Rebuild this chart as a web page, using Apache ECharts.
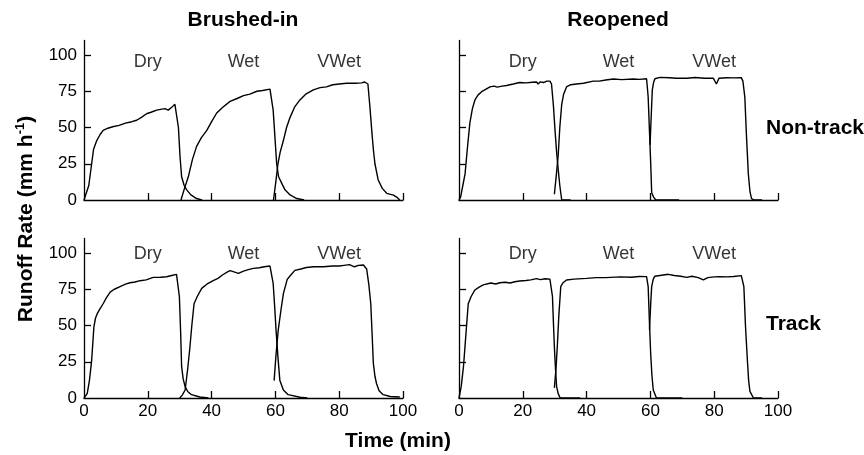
<!DOCTYPE html>
<html>
<head>
<meta charset="utf-8">
<script src="https://cdn.jsdelivr.net/npm/echarts@6/dist/echarts.min.js"></script>
<style>
  html, body { margin: 0; padding: 0; background: #fff; }
  #chart { width: 864px; height: 455px; }
</style>
</head>
<body>
<div id="chart"></div>
<script>
// column / row labels
const colTitles = ['Brushed-in', 'Reopened']
const rowTitles = ['Non-track', 'Track']
const runNames = ['Dry', 'Wet', 'VWet']
const runLabelX = [20, 50, 80]
const runLabelY = [95, 99]   // top row, bottom row
const xTicks = [0, 20, 40, 60, 80, 100]
const yTicks = [0, 25, 50, 75, 100]

// Brushed-in, Non-track  [time (min), runoff (mm/h)]
const bnDry = [[0,0],[0.6,0],[1.5,10],[2.4,25],[3,35],[4,41],[5,45],[6,48],[7.5,49.5],[9,50.5],[11,51.5],[13,53],[15,54],[16.5,55],[18,57],[19.6,59.5],[21,60.5],[22.8,62],[24,62.5],[25.4,63],[26.4,62],[27.5,64],[28.5,66],[29.6,50],[30.1,30],[30.6,16],[31.4,10],[32.2,7],[33.5,3.5],[35.3,1],[37,0]]
const bnWet = [[30.4,0],[31.5,8],[32.7,16],[34,28],[35.3,37],[36.8,43],[38.5,48],[40,54],[41.6,60],[43.5,64],[45.8,68],[48,70],[50,72],[52,73],[54.2,75],[56,75.5],[58.3,76.5],[59.3,62],[60.4,25],[61,16],[62,11.5],[63,7],[64.6,3.5],[66.7,1],[69,0]]
const bnVWet = [[59.4,0],[60.1,12],[60.8,25],[61.5,33],[62.5,41],[63.5,50],[64.6,57],[66,64],[67.7,69],[69.5,73],[71.9,76],[74,77.5],[76,78],[78,79.5],[80,80],[82.3,80.5],[85,80.5],[87,80.8],[88,81.4],[89,80],[89.6,65],[90.2,48],[90.7,35],[91.2,25],[92.2,14],[93.5,8],[94.9,4.6],[97,3.4],[98,2],[99,0]]

// Reopened, Non-track
const rnDry = [[0,0],[0.5,2],[1.2,10],[1.9,18],[2.6,35],[3.4,53],[4.2,63],[5,69],[6,72.5],[7.1,74.7],[8.5,76.5],[9.7,78],[11,78.5],[12,77.8],[13.5,78.5],[14.9,79],[17,80],[19,81],[21,80.8],[23,81.2],[24.3,81.4],[24.8,80],[25.5,81.5],[26.5,81],[27.5,82],[28.5,82],[29,80],[29.6,65],[30.1,48],[30.6,33],[31.1,21],[31.6,10],[32.2,0],[35,0]]
const rnWet = [[29.9,4],[30.5,17],[31.1,31],[31.6,50],[32.2,66],[32.8,73],[33.7,78],[35,79.5],[36.9,80],[39,80.5],[42.1,82],[44,82],[46,82.8],[48.4,83.4],[51,83],[54.7,83.4],[56.5,83.2],[58.8,83.6],[59.3,71],[59.7,48],[60.1,25],[60.4,5],[61,2],[61.7,0],[69,0]]
const rnVWet = [[59.9,38],[60.2,55],[60.6,76],[61,81],[61.4,83.6],[63,84.6],[66,84.3],[68,84],[71.4,84],[74,84.5],[77,84],[79.7,84],[80.7,80],[81.5,84],[84,84.3],[86,84.2],[88.5,84.4],[89,82],[89.6,71],[90.1,45],[90.7,18],[91.2,6],[91.7,1],[92.5,0],[95,0]]

// Brushed-in, Track
const btDry = [[0,0],[1,3],[1.7,12],[2.4,26],[3.1,49],[3.6,55],[4.2,58.4],[5,61.5],[6,65],[7,69],[8.2,73],[9.5,75],[11.3,76.8],[13,78.5],[14.4,79.5],[16,80],[17.6,80.9],[19.5,81.5],[21.7,83.2],[24,83.3],[25.9,83.6],[27.5,84.5],[29,85.3],[29.9,70],[30.3,45],[30.6,21.6],[31.1,13],[31.7,7.8],[32.5,4.5],[33.7,2.3],[36.3,0.7],[39,0]]
const btWet = [[30,0],[30.8,2],[31.7,5.5],[32.5,20],[33.2,35],[33.8,50],[34.5,65],[35.5,70],[36.9,75.6],[38.5,78.5],[40.5,81],[42,82.5],[43.5,85],[45,87],[45.8,87.8],[47,87],[48.4,86],[50,87.5],[51.5,88.5],[53.1,89.4],[55,89.8],[56.5,90.5],[58.3,91],[59.3,79],[59.8,62],[60.2,47],[60.8,28],[61.4,12],[62.5,5.5],[64,2.3],[67.7,0.5],[70,0]]
const btVWet = [[59.6,12],[60.2,30],[60.9,47],[61.7,60],[62.5,72],[63.7,81.8],[64.5,84],[66.1,88],[68,89],[69.7,90],[72,90.5],[75,90.5],[78,91],[80,91],[81.5,91.5],[83.2,92],[84.8,90.5],[86,91.5],[87.6,91.7],[88.6,89],[89.3,78],[89.9,65],[90.3,45],[90.7,24],[91.2,15],[91.7,10],[92.5,5],[93.8,2.3],[96,1],[99,0.7]]

// Reopened, Track
const rtDry = [[0,0],[0.7,8],[1.4,21.6],[2.1,42],[2.9,65],[3.8,70],[5,74.5],[6.3,76.5],[7.6,78],[10,79.3],[11.5,78.6],[12.8,79.5],[14.5,79.8],[16,79.3],[17.5,80.2],[19,80.7],[21,81],[22.5,81.5],[24.3,82.3],[25.5,81.6],[27,82.2],[28.5,82],[29.3,70],[29.6,52],[29.9,35],[30.3,18],[30.6,7.8],[31.1,3],[31.7,0],[38,0]]
const rtWet = [[29.9,7],[30.4,20],[30.8,35],[31.3,57],[31.9,76.8],[32.6,79.5],[33.7,81.4],[36,82],[40,82.5],[43,83],[46,83],[50.5,83.5],[54,83.3],[56.5,83.8],[58.8,83.7],[59.3,76.8],[59.7,52],[60.1,30],[60.5,15],[60.9,5.5],[61.9,0],[70,0]]
const rtVWet = [[59.7,47],[60.1,65],[60.4,76.8],[60.9,82],[61.4,84],[63,84.5],[65.6,85.3],[67.5,84.5],[69.5,84],[71.4,83.2],[73,84],[75,83],[76.6,81.4],[78,83],[80,83.5],[81.8,83.7],[84,83.5],[86,83.8],[88.5,84.4],[89.3,76.8],[89.8,50],[90.4,26],[90.8,12],[91.2,4.6],[92.3,0],[95,0]]

const panels = [
  [bnDry, bnWet, bnVWet],
  [rnDry, rnWet, rnVWet],
  [btDry, btWet, btVWet],
  [rtDry, rtWet, rtVWet]
]

const font = 'Liberation Sans, Arial, sans-serif'
const chart = echarts.init(document.getElementById('chart'))

const grids = []
const xAxes = []
const yAxes = []
const series = []
panels.forEach((runs, i) => {
  const col = i % 2
  const row = Math.floor(i / 2)
  grids.push({
    left: col === 0 ? 84 : 459,
    top: row === 0 ? 40.5 : 238.5,
    width: 319,
    height: 159.5
  })
  xAxes.push({
    type: 'value', gridIndex: i, min: 0, max: 100, interval: 20,
    axisLine: { lineStyle: { color: '#000', width: 1.3 } },
    axisTick: { inside: true, length: 7, lineStyle: { color: '#000', width: 1.3 }, customValues: xTicks.slice(1) },
    axisLabel: { show: row === 1, customValues: xTicks, color: '#000', fontSize: 17, fontFamily: font, margin: 5 },
    splitLine: { show: false }
  })
  yAxes.push({
    type: 'value', gridIndex: i, min: 0, max: 110,
    axisLine: { show: true, lineStyle: { color: '#000', width: 1.3 } },
    axisTick: { show: true, inside: true, length: 7, lineStyle: { color: '#000', width: 1.3 }, customValues: yTicks.slice(1) },
    axisLabel: { show: col === 0, customValues: yTicks, color: '#000', fontSize: 17, fontFamily: font, margin: 7 },
    splitLine: { show: false }
  })
  runs.forEach((d, k) => {
    series.push({
      type: 'line', name: runNames[k], xAxisIndex: i, yAxisIndex: i,
      data: d, showSymbol: false, symbol: 'none', silent: true,
      lineStyle: { color: '#000', width: 1.4 }
    })
  })
  series.push({
    type: 'scatter', xAxisIndex: i, yAxisIndex: i, symbolSize: 0, silent: true,
    data: runNames.map((n, k) => ({ name: n, value: [runLabelX[k], runLabelY[row]] })),
    label: { show: true, position: 'inside', formatter: '{b}', color: '#000', fontSize: 18, fontFamily: font }
  })
})

const bold = { fill: '#000', fontSize: 21, fontWeight: 'bold', fontFamily: font }
chart.setOption({
  animation: false,
  backgroundColor: '#fff',
  grid: grids,
  xAxis: xAxes,
  yAxis: yAxes,
  series: series,
  graphic: [
    { type: 'text', x: 243, y: 20, style: Object.assign({ text: colTitles[0], align: 'center', verticalAlign: 'middle' }, bold) },
    { type: 'text', x: 618, y: 20, style: Object.assign({ text: colTitles[1], align: 'center', verticalAlign: 'middle' }, bold) },
    { type: 'text', x: 766, y: 128, style: Object.assign({ text: rowTitles[0], align: 'left', verticalAlign: 'middle' }, bold) },
    { type: 'text', x: 766, y: 324, style: Object.assign({ text: rowTitles[1], align: 'left', verticalAlign: 'middle' }, bold) },
    { type: 'text', x: 398, y: 441, style: Object.assign({ text: 'Time (min)', align: 'center', verticalAlign: 'middle' }, bold) },
    {
      type: 'text', x: 26, y: 219, rotation: Math.PI / 2,
      style: {
        text: '{b|Runoff Rate (mm h}{s|-1}{b|)}',
        align: 'center', verticalAlign: 'middle',
        rich: {
          b: { fontSize: 21, fontWeight: 'bold', fontFamily: font, fill: '#000', lineHeight: 24 },
          s: { fontSize: 13, fontWeight: 'bold', fontFamily: font, fill: '#000', verticalAlign: 'top', lineHeight: 24 }
        }
      }
    }
  ]
})
</script>
</body>
</html>
